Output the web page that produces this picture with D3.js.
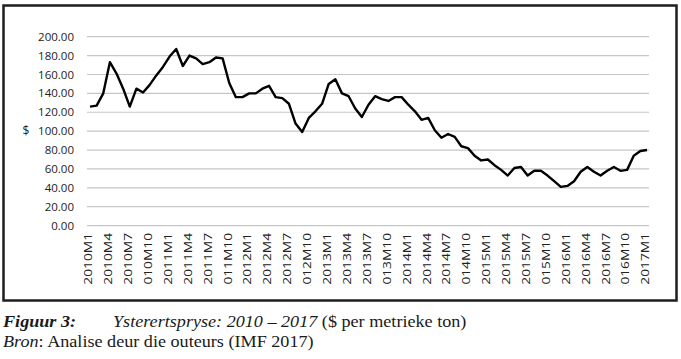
<!DOCTYPE html>
<html>
<head>
<meta charset="utf-8">
<script src="https://d3js.org/d3.v7.min.js"></script>
<style>
  body { margin: 0; background: #fff; }
</style>
</head>
<body>
<div id="chart"></div>
<script>

// iron ore price, monthly, 2010M1 - 2017M1 (US$ per metric ton)
var years = [2010, 2011, 2012, 2013, 2014, 2015, 2016, 2017]
var prices = [
  126, 127, 140, 173, 161, 145, 126, 145, 141, 149, 159, 168,
  179, 187, 169, 180, 177, 171, 173, 178, 177, 151, 136, 136,
  140, 140, 145, 148, 136, 135, 129, 108, 99, 114, 121, 129,
  150, 155, 140, 137, 124, 115, 128, 137, 134, 132, 136, 136,
  128, 121, 112, 114, 101, 93, 97, 94, 84, 82, 74, 69,
  70, 64, 59, 53, 61, 62, 53, 58, 58, 53, 47, 41,
  42, 47, 57, 62, 57, 53, 58, 62, 58, 59, 74, 79,
  80
]
var yTicks = [0, 20, 40, 60, 80, 100, 120, 140, 160, 180, 200]

// month labels like 2010M1, 2010M2 ...
var months = []
prices.forEach(function(d, i) {
  months.push(years[Math.floor(i / 12)] + 'M' + (i % 12 + 1))
})
// only every third month gets a label
var labelIdx = d3.range(0, months.length, 3)

var width = 681,
    height = 359;

var svg = d3.select('#chart')
  .append('svg')
  .attr('width', width)
  .attr('height', height)

// frame round the chart
svg.append('rect')
  .attr('x', 3.5).attr('y', 5.5)
  .attr('width', 673).attr('height', 295)
  .style('fill', 'none')
  .style('stroke', '#1e1e1e')
  .style('stroke-width', 2.5)

var x = d3.scaleLinear().domain([0, prices.length - 1]).range([90, 647])
var y = d3.scaleLinear().domain([0, 200]).range([225.6, 36.7])

// gridlines
svg.append('g')
  .selectAll('line')
  .data(yTicks)
  .enter().append('line')
  .attr('x1', 87).attr('x2', 649)
  .attr('y1', function(d) { return y(d) })
  .attr('y2', function(d) { return y(d) })
  .style('stroke', '#c6c6c6')
  .style('stroke-width', 1.2)

// y axis labels
svg.append('g')
  .selectAll('text')
  .data(yTicks)
  .enter().append('text')
  .attr('x', 74)
  .attr('y', function(d) { return y(d) })
  .attr('dy', '0.35em')
  .attr('text-anchor', 'end')
  .style('font-family', 'Open Sans, sans-serif')
  .style('font-size', '11.5px')
  .style('fill', '#222')
  .text(function(d) { return d3.format('.2f')(d) })

svg.append('text')
  .attr('x', 26)
  .attr('y', y(100))
  .attr('dy', '0.35em')
  .attr('text-anchor', 'middle')
  .style('font-family', 'Open Sans, sans-serif')
  .style('font-size', '12px')
  .style('fill', '#222')
  .text('$')

// x labels, clipped at the bottom like in the original
svg.append('clipPath')
  .attr('id', 'xclip')
  .append('rect')
  .attr('x', 70).attr('y', 226)
  .attr('width', 600).attr('height', 59.5)

svg.append('g')
  .attr('clip-path', 'url(#xclip)')
  .selectAll('text')
  .data(labelIdx)
  .enter().append('text')
  .attr('transform', function(i) {
    return 'translate(' + (x(i) - 1.5) + ',233) rotate(-90) scale(1.25,1)'
  })
  .attr('dy', '0.35em')
  .attr('text-anchor', 'end')
  .style('font-family', 'Open Sans, sans-serif')
  .style('font-size', '11px')
  .style('fill', '#222')
  .text(function(i) { return months[i] })

// the price line
var line = d3.line()
  .x(function(d, i) { return x(i) })
  .y(function(d) { return y(d) })

svg.append('path')
  .datum(prices)
  .attr('d', line)
  .style('fill', 'none')
  .style('stroke', '#000')
  .style('stroke-width', 2.4)
  .style('stroke-linejoin', 'round')

// caption under the frame (a bit wider than normal type, as in the scan)
var cap = svg.append('g')
  .style('font-family', 'Liberation Serif, Times New Roman, serif')
  .style('font-size', '16.5px')
  .style('fill', '#1a1a1a')

cap.append('text')
  .attr('transform', 'translate(3,327) scale(1.1,1)')
  .style('font-weight', 'bold')
  .style('font-style', 'italic')
  .text('Figuur 3:')

var t1 = cap.append('text').attr('transform', 'translate(113,327) scale(1.1,1)')
t1.append('tspan').style('font-style', 'italic').text('Ysterertspryse: 2010 – 2017')
t1.append('tspan').text(' ($ per metrieke ton)')

var t2 = cap.append('text').attr('transform', 'translate(3,347) scale(1.1,1)')
t2.append('tspan').style('font-style', 'italic').text('Bron')
t2.append('tspan').text(': Analise deur die outeurs (IMF 2017)')

</script>
</body>
</html>
